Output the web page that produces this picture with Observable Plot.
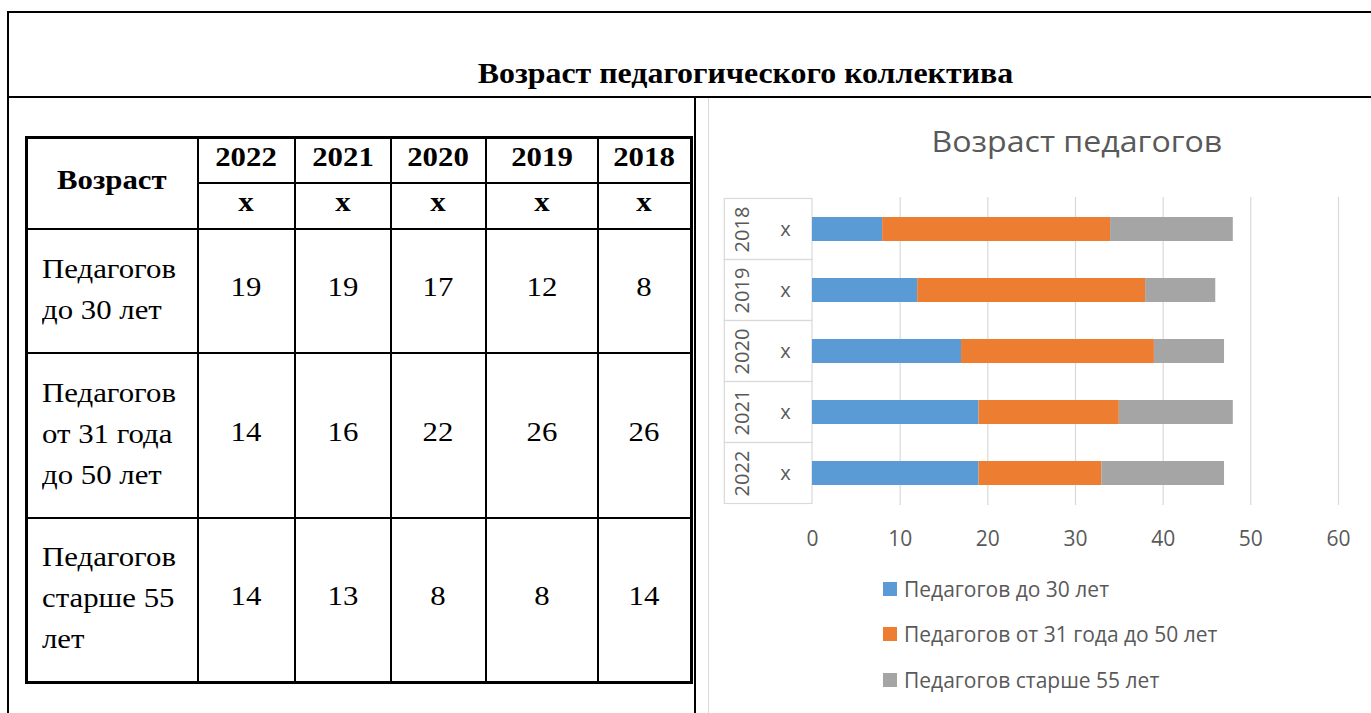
<!DOCTYPE html>
<html><head><meta charset="utf-8">
<script src="https://cdn.jsdelivr.net/npm/d3@7"></script>
<script src="https://cdn.jsdelivr.net/npm/@observablehq/plot@0.6"></script>
<style>
html,body{margin:0;padding:0;background:#fff;}
body{width:1371px;height:713px;position:relative;overflow:hidden;font-family:"Liberation Serif","Times New Roman",serif;color:#000;}
.line{position:absolute;background:#000;}
#pageTitle{position:absolute;left:345px;width:800px;top:59px;text-align:center;font-weight:bold;font-size:29px;line-height:29px;}
#pageTitle span{display:inline-block;transform:scaleX(1.1);}
table.t{position:absolute;left:25px;top:136px;border-collapse:collapse;table-layout:fixed;}
table.t td{border:2px solid #000;padding:0;text-align:center;vertical-align:middle;font-size:28px;line-height:41px;}
table.t td span{display:inline-block;transform:scaleX(1.1);position:relative;top:-4px;}
table.t td.lab{text-align:left;padding-left:14px;}
table.t td.lab span{transform-origin:left center;top:-2px;}
table.t td.b{font-weight:bold;}
#chartTitle{position:absolute;left:877px;width:400px;top:121px;text-align:center;font-family:"Open Sans",sans-serif;font-size:30px;line-height:40px;color:#595959;}
#chartTitle span{display:inline-block;transform:scaleX(1.07);}
#chart{position:absolute;left:700px;top:180px;}
#legend{position:absolute;left:883px;top:566px;font-family:"Open Sans",sans-serif;font-size:21px;color:#595959;}
#legend .it{height:45.5px;display:flex;align-items:center;}
#legend .sw{width:14px;height:14px;margin-right:7px;}
</style></head><body>
<div class="line" style="left:7px;top:11px;width:1364px;height:2px"></div>
<div class="line" style="left:7px;top:11px;width:2px;height:702px"></div>
<div class="line" style="left:7px;top:96px;width:1364px;height:2px"></div>
<div class="line" style="left:694px;top:97px;width:2px;height:616px"></div>
<div class="line" style="left:708px;top:98px;width:1px;height:615px;background:#d9d9d9"></div>
<div id="pageTitle"><span>Возраст педагогического коллектива</span></div>
<div id="chartTitle"><span>Возраст педагогов</span></div>
<div id="chart"></div>
<div id="legend"></div>
<script>
// ---- data ----
const years = ["2022", "2021", "2020", "2019", "2018"];
const unitLabels = ["x", "x", "x", "x", "x"];
const groups = ["Педагогов до 30 лет", "Педагогов от 31 года до 50 лет", "Педагогов старше 55 лет"];
const groupLines = [["Педагогов", "до 30 лет"], ["Педагогов", "от 31 года", "до 50 лет"], ["Педагогов", "старше 55", "лет"]];
const under30 = [19, 19, 17, 12, 8];
const from31to50 = [14, 16, 22, 26, 26];
const over55 = [14, 13, 8, 8, 14];
const colors = ["#5B9BD5", "#ED7D31", "#A5A5A5"];
const xTicks = [0, 10, 20, 30, 40, 50, 60];
const headLabel = "Возраст";

// ---- table ----
const series = [under30, from31to50, over55];
const colW = [171, 97, 96, 95, 112, 94];
const rowH = [45, 46, 124, 165, 165];
const tbl = document.createElement("table");
tbl.className = "t";
const cg = document.createElement("colgroup");
colW.forEach(w => { const c = document.createElement("col"); c.style.width = w + "px"; cg.appendChild(c); });
tbl.appendChild(cg);
function cell(tr, html, cls, extra) {
  const td = document.createElement("td");
  if (cls) td.className = cls;
  td.innerHTML = html;
  if (extra) Object.assign(td, extra);
  tr.appendChild(td);
  return td;
}
let tr = document.createElement("tr"); tr.style.height = rowH[0] + "px";
cell(tr, `<span>${headLabel}</span>`, "b", {rowSpan: 2});
years.forEach(y => cell(tr, `<span>${y}</span>`, "b"));
tbl.appendChild(tr);
tr = document.createElement("tr"); tr.style.height = rowH[1] + "px";
unitLabels.forEach(u => cell(tr, `<span>${u}</span>`, "b"));
tbl.appendChild(tr);
series.forEach((s, i) => {
  const r = document.createElement("tr"); r.style.height = rowH[i + 2] + "px";
  cell(r, groupLines[i].map(l => `<span>${l}</span>`).join("<br>"), "lab");
  s.forEach(v => cell(r, `<span>${v}</span>`));
  tbl.appendChild(r);
});
tbl.style.border = "3px solid #000";
document.body.appendChild(tbl);

// ---- chart ----
const chartYears = years.slice().reverse();
const data = [];
chartYears.forEach(yr => {
  const i = years.indexOf(yr);
  groups.forEach((g, j) => data.push({year: yr, group: g, value: series[j][i]}));
});
const chart = Plot.plot({
  width: 671, height: 370,
  marginLeft: 112, marginRight: 33, marginTop: 17, marginBottom: 45,
  style: {fontFamily: "Open Sans, sans-serif", fontSize: "21px", color: "#595959", background: "transparent", overflow: "visible"},
  x: {domain: [0, 60], axis: null},
  y: {domain: chartYears, paddingInner: 0.6, paddingOuter: 0.3, axis: null},
  color: {domain: groups, range: colors},
  marks: [
    Plot.ruleX(xTicks.filter(t => t > 0), {stroke: "#d9d9d9", strokeWidth: 1.2}),
    Plot.barX(chartYears, {y: d => d, x1: -10, x2: 0, fill: "none", stroke: "#d9d9d9", strokeWidth: 1.2, insetTop: -18.5, insetBottom: -18.5}),
    Plot.barX(data, Plot.stackX({x: "value", y: "year", fill: "group", order: groups})),
    Plot.axisX({ticks: xTicks, tickSize: 0, tickPadding: 26, fontSize: 21, label: null, tickFormat: d => String(d)}),
    Plot.text(chartYears, {y: d => d, text: d => d, frameAnchor: "left", textAnchor: "middle", dx: -70, rotate: -90, fill: "#595959", fontSize: 20}),
    Plot.text(chartYears, {y: d => d, text: d => unitLabels[years.indexOf(d)], frameAnchor: "left", textAnchor: "middle", dx: -27, fill: "#595959", fontSize: 20})
  ]
});
document.getElementById("chart").appendChild(chart);

// ---- legend ----
const leg = document.getElementById("legend");
groups.forEach((g, j) => {
  const it = document.createElement("div"); it.className = "it";
  it.innerHTML = `<div class="sw" style="background:${colors[j]}"></div><div>${g}</div>`;
  leg.appendChild(it);
});
</script>
</body></html>
